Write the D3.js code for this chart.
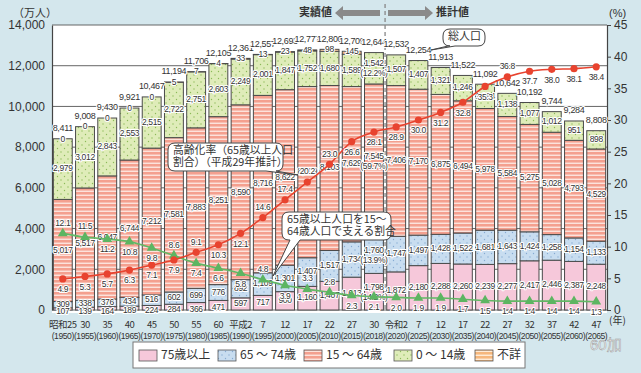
<!DOCTYPE html>
<html>
<head>
<meta charset="utf-8">
<script src="https://cdn.jsdelivr.net/npm/d3@7"></script>
<style>
  body { margin: 0; background: #d4e7ed; }
  svg { display: block; font-family: "Liberation Sans", "Noto Sans CJK JP", sans-serif; }
  .num { font-family: "Liberation Sans Narrow", "Liberation Sans", sans-serif; font-size: 8.5px; fill: #333;
         letter-spacing: -0.35px; stroke: #fff; stroke-width: 2.2px; paint-order: stroke; stroke-linejoin: round; }
  .jp { font-family: "Noto Sans CJK JP", sans-serif; }
</style>
</head>
<body>
<svg id="chart" width="641" height="373"></svg>
<script>
// Data (万人)
const years = [1950, 1955, 1960, 1965, 1970, 1975, 1980, 1985, 1990, 1995, 2000, 2005, 2010, 2015, 2018,
               2020, 2025, 2030, 2035, 2040, 2045, 2050, 2055, 2060, 2065];
const eras = ['昭和25', '30', '35', '40', '45', '50', '55', '60', '平成2', '7', '12', '17', '22', '27', '30',
              '令和2', '7', '12', '17', '22', '27', '32', '37', '42', '47'];
const totals = [8411, 9008, 9430, 9921, 10467, 11194, 11706, 12105, 12361, 12557, 12693, 12777, 12806, 12709, 12644,
                12532, 12254, 11913, 11522, 11092, 10642, 10192, 9744, 9284, 8808];
const age75 = [107, 139, 164, 189, 224, 284, 366, 471, 597, 717, 900, 1160, 1407, 1613, 1798,
               1872, 2180, 2288, 2260, 2239, 2277, 2417, 2446, 2387, 2248];
const age65 = [309, 338, 376, 434, 516, 602, 699, 776, 892, 1109, 1301, 1407, 1517, 1734, 1760,
               1747, 1497, 1428, 1522, 1681, 1643, 1424, 1258, 1154, 1133];
const age15 = [5017, 5517, 6047, 6744, 7212, 7581, 7883, 8251, 8590, 8716, 8622, 8409, 8103, 7629, 7545,
               7406, 7170, 6875, 6494, 5978, 5584, 5275, 5028, 4793, 4529];
const age0 = [2979, 3012, 2843, 2553, 2515, 2722, 2751, 2603, 2249, 2001, 1847, 1752, 1680, 1589, 1542,
              1507, 1407, 1321, 1246, 1194, 1138, 1077, 1012, 951, 898];
const unknown = [0, 0, 0, 0, 0, 5, 7, 4, 33, 13, 23, 48, 98, 145, null,
                 null, null, null, null, null, null, null, null, null, null];
const share2018 = [14.2, 13.9, 59.7, 12.2]; // 75+, 65-74, 15-64, 0-14 (%)
// (%)
const agingRate = [4.9, 5.3, 5.7, 6.3, 7.1, 7.9, 9.1, 10.3, 12.1, 14.6, 17.4, 20.2, 23.0, 26.6, 28.1,
                   28.9, 30.0, 31.2, 32.8, 35.3, 36.8, 37.7, 38.0, 38.1, 38.4];
const supportRatio = [12.1, 11.5, 11.2, 10.8, 9.8, 8.6, 7.4, 6.6, 5.8, 4.8, 3.9, 3.3, 2.8, 2.3, 2.1,
                      2.0, 1.9, 1.9, 1.7, 1.5, 1.4, 1.4, 1.4, 1.4, 1.3];
const leftTicks = [0, 2000, 4000, 6000, 8000, 10000, 12000, 14000];
const rightTicks = [0, 5, 10, 15, 20, 25, 30, 35, 40, 45];
const legendNames = ['75歳以上', '65 ～ 74歳', '15 ～ 64歳', '0 ～ 14歳', '不詳'];

const keys = ['a75', 'a65', 'a15', 'a0', 'unk'];
const rows = years.map((y, i) => ({
  year: y, i,
  a75: age75[i], a65: age65[i], a15: age15[i], a0: age0[i], unk: unknown[i] || 0
}));

const svg = d3.select('#chart');
const plotTop = 25, plotBottom = 310, plotLeft = 52, plotRight = 607;

const x = d3.scaleBand().domain(years).range([plotLeft, plotRight]).paddingInner(0.15).paddingOuter(0.06);
const yL = d3.scaleLinear().domain([0, 14000]).range([plotBottom, plotTop]);
const yR = d3.scaleLinear().domain([0, 45]).range([plotBottom, plotTop]);
const cx = i => x(years[i]) + x.bandwidth() / 2;
const fmt = d3.format(',');

// patterns
const defs = svg.append('defs');
function stripes(id, bg, line) {
  const p = defs.append('pattern').attr('id', id).attr('patternUnits', 'userSpaceOnUse')
    .attr('width', 4).attr('height', 4);
  p.append('rect').attr('width', 4).attr('height', 4).attr('fill', bg);
  p.append('rect').attr('y', 2.6).attr('width', 4).attr('height', 1.3).attr('fill', line);
}
function dots(id, bg, dot) {
  const p = defs.append('pattern').attr('id', id).attr('patternUnits', 'userSpaceOnUse')
    .attr('width', 7).attr('height', 7);
  p.append('rect').attr('width', 7).attr('height', 7).attr('fill', bg);
  p.append('circle').attr('cx', 1.5).attr('cy', 1.5).attr('r', 0.7).attr('fill', dot);
  p.append('circle').attr('cx', 5).attr('cy', 5).attr('r', 0.7).attr('fill', dot);
}
stripes('p15', '#f4a08f', '#fdeae4');
stripes('punk', '#f6b77c', '#fff1e0');
dots('p0', '#dfecb9', '#8cbb57');
dots('p65', '#c8ddf0', '#86abd3');
const fills = { a75: '#f6c8da', a65: 'url(#p65)', a15: 'url(#p15)', a0: 'url(#p0)', unk: 'url(#punk)' };

// plot area
svg.append('rect').attr('x', plotLeft).attr('y', plotTop).attr('width', plotRight - plotLeft)
  .attr('height', plotBottom - plotTop + 3).attr('fill', '#fff');

svg.append('g').selectAll('line').data(leftTicks).join('line')
  .attr('x1', plotLeft).attr('x2', plotRight).attr('y1', d => yL(d)).attr('y2', d => yL(d))
  .attr('stroke', '#555').attr('stroke-width', 0.9);

// dashed separator
const sepX = (x(2018) + x.bandwidth() + x(2020)) / 2;
svg.append('line').attr('x1', sepX).attr('x2', sepX).attr('y1', 4).attr('y2', plotBottom + 2)
  .attr('stroke', '#888').attr('stroke-width', 1.3).attr('stroke-dasharray', '4,3');

// bars
const series = d3.stack().keys(keys)(rows);
svg.append('g').selectAll('g').data(series).join('g')
  .attr('fill', d => fills[d.key])
  .selectAll('rect').data(d => d.filter(s => s[1] > s[0])).join('rect')
  .attr('x', d => x(d.data.year)).attr('width', x.bandwidth())
  .attr('y', d => yL(d[1])).attr('height', d => yL(d[0]) - yL(d[1]))
  .attr('stroke', '#4a4a4a').attr('stroke-width', 1);

// axes
svg.append('g').attr('transform', `translate(${plotLeft},0)`)
  .call(d3.axisLeft(yL).tickValues(leftTicks).tickSize(0).tickPadding(7).tickFormat(fmt))
  .call(g => g.select('.domain').attr('stroke', '#444').attr('stroke-width', 1.2))
  .call(g => g.selectAll('text').attr('font-size', 12).attr('fill', '#333')
    .attr('font-family', '"Liberation Sans", sans-serif'));
svg.append('g').attr('transform', `translate(${plotRight},0)`)
  .call(d3.axisRight(yR).tickValues(rightTicks).tickSize(4).tickPadding(3))
  .call(g => g.select('.domain').attr('stroke', '#444').attr('stroke-width', 1.2))
  .call(g => g.selectAll('line').attr('stroke', '#444'))
  .call(g => g.selectAll('text').attr('font-size', 12).attr('fill', '#333')
    .attr('font-family', '"Liberation Sans", sans-serif'));

// bar value labels
const labels = svg.append('g');
series.forEach((s, k) => {
  s.forEach((d, i) => {
    const key = keys[k];
    if (key === 'unk') {
      if (unknown[i] === null) return;
      labels.append('text').attr('class', 'num').attr('x', cx(i)).attr('y', yL(d[1]) + 0.5)
        .attr('text-anchor', 'middle').attr('dominant-baseline', 'middle').text(fmt(unknown[i]));
      return;
    }
    let y = (yL(d[0]) + yL(d[1])) / 2;
    const h = yL(d[0]) - yL(d[1]);
    if (key === 'a75' && h < 10) y = Math.min(y + 3, 313);
    const val = rows[i][key];
    const t = labels.append('text').attr('class', 'num').attr('x', cx(i)).attr('text-anchor', 'middle');
    if (years[i] === 2018) {
      t.attr('y', y - 2).text(fmt(val));
      labels.append('text').attr('class', 'num').attr('x', cx(i)).attr('y', y + 8)
        .attr('text-anchor', 'middle').text(`(${share2018[k]}%)`);
    } else {
      t.attr('y', y).attr('dominant-baseline', 'middle').text(fmt(val));
    }
  });
});
// totals
labels.selectAll('.tot').data(totals).join('text').attr('class', 'num')
  .attr('x', (d, i) => cx(i)).attr('y', (d, i) => yL(d) - 10).attr('dominant-baseline', 'middle')
  .attr('text-anchor', 'middle').style('font-size', '9px').text(d => fmt(d));

// lines
const line = d3.line().x((d, i) => cx(i)).y(d => yR(d)).curve(d3.curveMonotoneX);
svg.append('path').datum(supportRatio).attr('d', line).attr('fill', 'none')
  .attr('stroke', '#62b865').attr('stroke-width', 1.6);
svg.append('g').selectAll('path').data(supportRatio).join('path')
  .attr('d', d3.symbol(d3.symbolTriangle).size(42))
  .attr('transform', (d, i) => `translate(${cx(i)},${yR(d)})`).attr('fill', '#5db562');
svg.append('path').datum(agingRate).attr('d', line).attr('fill', 'none')
  .attr('stroke', '#e8432f').attr('stroke-width', 1.6);
svg.append('g').selectAll('circle').data(agingRate).join('circle')
  .attr('cx', (d, i) => cx(i)).attr('cy', d => yR(d)).attr('r', 3.6).attr('fill', '#e8432f');

const redAbove = new Set([6, 9, 10, 11, 12, 20]);
const greenAbove = new Set([0, 1, 5, 9, 11, 12]);
svg.append('g').selectAll('text').data(agingRate).join('text').attr('class', 'num')
  .attr('x', (d, i) => cx(i)).attr('y', (d, i) => yR(d) + (redAbove.has(i) ? -10 : 11))
  .attr('dominant-baseline', 'middle').attr('text-anchor', 'middle').text(d => d.toFixed(1));
svg.append('g').selectAll('text').data(supportRatio).join('text').attr('class', 'num')
  .attr('x', (d, i) => cx(i)).attr('y', (d, i) => yR(d) + (greenAbove.has(i) ? -10 : 11))
  .attr('dominant-baseline', 'middle').attr('text-anchor', 'middle').text(d => d.toFixed(1));

// x labels
const xl = svg.append('g').attr('fill', '#333');
xl.selectAll('.era').data(eras).join('text').attr('class', 'jp')
  .attr('x', (d, i) => cx(i)).attr('y', 325).attr('text-anchor', 'middle').attr('dominant-baseline', 'middle')
  .attr('font-size', 9.5).attr('letter-spacing', -0.5).text(d => d);
xl.selectAll('.yr').data(years).join('text')
  .attr('x', (d, i) => cx(i)).attr('y', 337).attr('text-anchor', 'middle').attr('dominant-baseline', 'middle')
  .attr('font-family', '"Liberation Sans Narrow", "Liberation Sans", sans-serif').attr('font-size', 8.6)
  .attr('letter-spacing', -0.45).text(d => `(${d})`);

// units
svg.append('text').attr('class', 'jp').attr('x', 13).attr('y', 14).attr('dominant-baseline', 'middle')
  .attr('font-size', 11).attr('fill', '#333').text('（万人）');
svg.append('text').attr('x', 609).attr('y', 14).attr('dominant-baseline', 'middle')
  .attr('font-size', 11).attr('fill', '#333').text('(%)');
svg.append('text').attr('class', 'jp').attr('x', 609).attr('y', 321).attr('dominant-baseline', 'middle')
  .attr('font-size', 10).attr('fill', '#333').text('(年)');

// header arrows
svg.append('polygon').attr('points', '335,13 343,6 343,10 380,10 380,16 343,16 343,20').attr('fill', '#8a8a8a');
svg.append('polygon').attr('points', '433,13 425,6 425,10 388,10 388,16 425,16 425,20').attr('fill', '#8a8a8a');
svg.append('text').attr('class', 'jp').attr('x', 332).attr('y', 13).attr('text-anchor', 'end')
  .attr('dominant-baseline', 'middle').attr('font-size', 11).attr('font-weight', 'bold').attr('fill', '#333').text('実績値');
svg.append('text').attr('class', 'jp').attr('x', 436).attr('y', 13)
  .attr('dominant-baseline', 'middle').attr('font-size', 11).attr('font-weight', 'bold').attr('fill', '#333').text('推計値');

// callouts
function callout(x0, y0, w, h, t1, t2, tip, lines, fs) {
  const r = 7, b = y0 + h;
  const p = `M${x0 + r},${y0} H${x0 + w - r} Q${x0 + w},${y0} ${x0 + w},${y0 + r} V${b - r} Q${x0 + w},${b} ${x0 + w - r},${b}`
    + ` H${t2} L${tip[0]},${tip[1]} L${t1},${b} H${x0 + r} Q${x0},${b} ${x0},${b - r} V${y0 + r} Q${x0},${y0} ${x0 + r},${y0} Z`;
  svg.append('path').attr('d', p).attr('fill', '#fff').attr('stroke', '#444').attr('stroke-width', 1);
  lines.forEach((l, j) => svg.append('text').attr('class', 'jp').attr('x', x0 + 5)
    .attr('y', y0 + h / 2 + (j - (lines.length - 1) / 2) * (fs + 2)).attr('dominant-baseline', 'middle')
    .attr('font-size', fs).attr('fill', '#333').text(l));
}
callout(443, 29, 42, 17, 448, 455, [431, 50], ['総人口'], 11);
callout(168, 143, 115, 28, 266, 276, [298, 175], ['高齢化率（65歳以上人口', '割合）（平成29年推計）'], 10.8);
callout(282, 212, 109, 28, 290, 300, [273, 276], ['65歳以上人口を15～', '64歳人口で支える割合'], 10.8);

// legend
const lg = svg.append('g');
lg.append('rect').attr('x', 133).attr('y', 342).attr('width', 392).attr('height', 26)
  .attr('fill', '#fff').attr('stroke', '#777');
const legX = [139, 218, 304, 394, 475];
keys.forEach((k, i) => {
  lg.append('rect').attr('x', legX[i]).attr('y', 350).attr('width', 18).attr('height', 11)
    .attr('fill', fills[k]).attr('stroke', '#555').attr('stroke-width', 0.8);
  lg.append('text').attr('class', 'jp').attr('x', legX[i] + 22).attr('y', 356).attr('dominant-baseline', 'middle')
    .attr('font-size', 12).attr('fill', '#333').text(legendNames[i]);
});

// watermark
svg.append('text').attr('x', 590).attr('y', 346).attr('dominant-baseline', 'middle').attr('font-size', 15)
  .attr('fill', '#f6f6f6').attr('stroke', '#999').attr('stroke-width', 0.5).text('60加');
</script>
</body>
</html>
